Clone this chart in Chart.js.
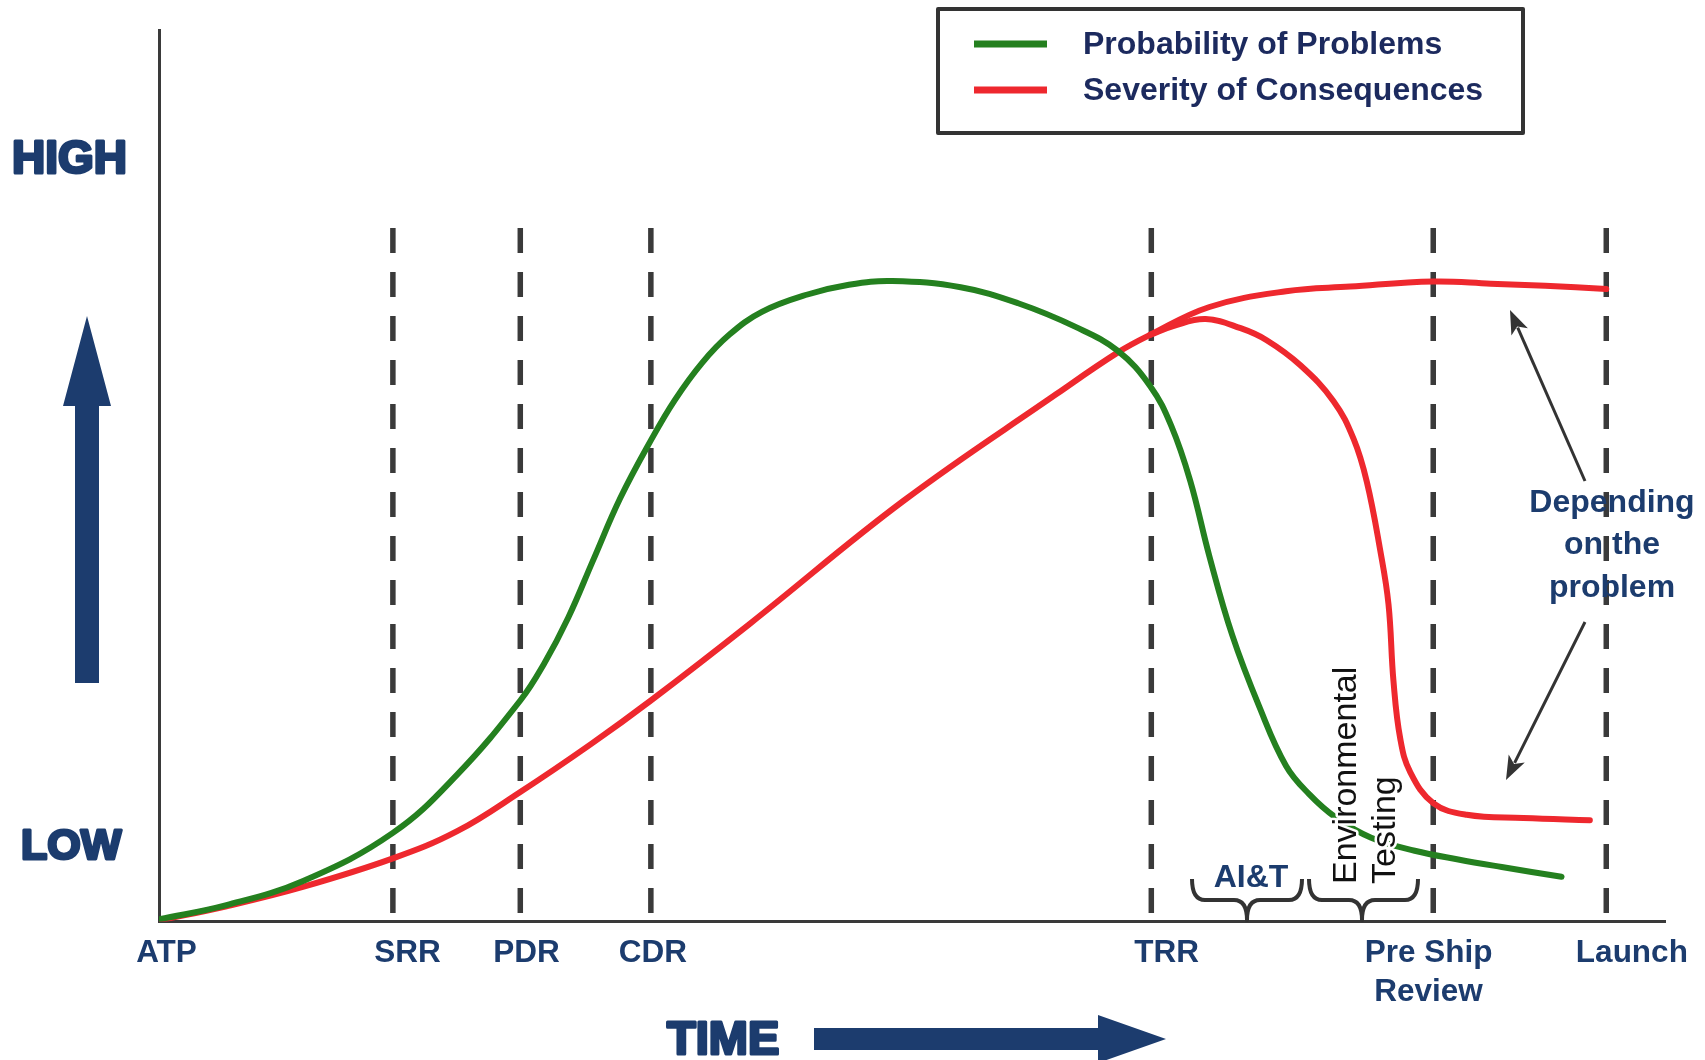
<!DOCTYPE html>
<html><head><meta charset="utf-8">
<script src="https://cdn.jsdelivr.net/npm/chart.js@4.4.1/dist/chart.umd.min.js"></script>
<style>html,body{margin:0;padding:0;background:#fff;}#wrap{width:1705px;height:1060px;position:relative;}</style>
</head><body><div id="wrap"><canvas id="c" width="1705" height="1060"></canvas></div>
<script>
// ---- data (time in % of program span, level in % of axis height) ----
const milestoneNames = ['ATP', 'SRR', 'PDR', 'CDR', 'TRR', ['Pre Ship', 'Review'], 'Launch'];
const milestoneLabelX = [0.5, 16.5, 24.4, 32.8, 66.9, 84.3, 97.8];
const reviewNames = ['SRR', 'PDR', 'CDR', 'TRR', 'Pre Ship Review', 'Launch'];
const reviewX = [15.53, 23.99, 32.66, 65.89, 84.61, 96.10];
const reviewTop = 77.8;

const probX = [0, 4.48, 9.61, 15.53, 19.80, 23.99, 25.58, 27.17, 28.83, 30.63, 32.66, 34.25, 36.05, 37.86, 40.03, 43.06, 45.81, 48.70, 53.23, 57.05, 60.86, 63.65, 65.82, 67.21, 68.48, 69.75, 71.27, 73.06, 74.84, 76.37, 78.14, 80.49, 83.38, 86.27, 89.16, 93.13];
const probY = [0.24, 1.83, 4.58, 9.94, 16.48, 24.79, 28.94, 34.07, 40.54, 47.50, 53.97, 58.49, 62.64, 65.81, 68.38, 70.33, 71.43, 71.85, 71.14, 69.35, 66.70, 64.03, 60.05, 55.62, 49.40, 40.95, 32.09, 24.10, 17.45, 14.29, 11.67, 9.40, 7.94, 6.96, 6.11, 5.01];

const sevX = [0, 4.48, 9.61, 15.53, 19.80, 23.99, 28.68, 32.66, 39.25, 49.42, 59.59, 63.65, 65.82, 69.75, 74.84, 79.10, 84.61, 88.43, 92.05, 96.10];
const sevY = [0.12, 1.71, 3.91, 7.08, 10.13, 14.53, 19.90, 24.79, 33.42, 47.17, 59.16, 63.81, 65.81, 68.93, 70.70, 71.22, 71.79, 71.55, 71.31, 70.94];

const sevAltX = [65.82, 67.34, 69.50, 71.82, 73.55, 75.79, 77.99, 79.33, 80.20, 81.09, 81.64, 81.97, 82.42, 83.09, 84.63, 86.84, 90.60, 95.01];
const sevAltY = [65.81, 66.79, 67.58, 66.55, 65.20, 62.39, 58.37, 54.10, 49.33, 41.64, 35.59, 26.98, 20.51, 16.73, 13.26, 11.97, 11.60, 11.36];

const seriesNames = ['Probability of Problems', 'Severity of Consequences'];
// ---------------------------------------------------------------------

const GREEN = '#24801f', RED = '#ee282e', NAVY = '#1c3c6e', DARK = '#3a3a3a';
const FONT = '"Liberation Sans", Arial, sans-serif';
const pts = (xs, ys) => xs.map((x, i) => ({x, y: ys[i]}));

const datasets = [];
reviewX.forEach((x, i) => datasets.push({
  label: reviewNames[i], data: [{x, y: reviewTop}, {x, y: 0}],
  borderColor: DARK, borderWidth: 5.5, borderDash: [25, 19], pointRadius: 0, tension: 0, order: 5
}));
const curve = {pointRadius: 0, borderWidth: 6, tension: 0.4, borderCapStyle: 'round', borderJoinStyle: 'round'};
datasets.push(Object.assign({label: seriesNames[1], data: pts(sevX, sevY), borderColor: RED, order: 2}, curve));
datasets.push(Object.assign({label: seriesNames[1] + ' (alt)', data: pts(sevAltX, sevAltY), borderColor: RED, order: 2}, curve));
datasets.push(Object.assign({label: seriesNames[0], data: pts(probX, probY), borderColor: GREEN, order: 1}, curve));

function arrowLine(ctx, x1, y1, x2, y2) {
  const a = Math.atan2(y2 - y1, x2 - x1), L = 24, W = 9;
  ctx.beginPath(); ctx.moveTo(x1, y1); ctx.lineTo(x2 - Math.cos(a) * L * 0.8, y2 - Math.sin(a) * L * 0.8); ctx.stroke();
  ctx.beginPath(); ctx.moveTo(x2, y2);
  ctx.lineTo(x2 - Math.cos(a) * L + Math.sin(a) * W, y2 - Math.sin(a) * L - Math.cos(a) * W);
  ctx.lineTo(x2 - Math.cos(a) * L * 0.75, y2 - Math.sin(a) * L * 0.75);
  ctx.lineTo(x2 - Math.cos(a) * L - Math.sin(a) * W, y2 - Math.sin(a) * L + Math.cos(a) * W);
  ctx.closePath(); ctx.fill();
}
function brace(ctx, x0, x1, xc, yTop, yMid, yBot) {
  const r = 13;
  ctx.beginPath();
  ctx.moveTo(x0, yTop);
  ctx.quadraticCurveTo(x0, yMid, x0 + r, yMid);
  ctx.lineTo(xc - r, yMid);
  ctx.quadraticCurveTo(xc, yMid, xc, yBot);
  ctx.quadraticCurveTo(xc, yMid, xc + r, yMid);
  ctx.lineTo(x1 - r, yMid);
  ctx.quadraticCurveTo(x1, yMid, x1, yTop);
  ctx.stroke();
}
function heavyText(ctx, t, x, y, w) {
  ctx.lineWidth = w; ctx.lineJoin = 'round'; ctx.strokeStyle = ctx.fillStyle;
  ctx.strokeText(t, x, y); ctx.fillText(t, x, y);
}

const decor = {
  id: 'decor',
  afterDatasetsDraw(chart) {
    const ctx = chart.ctx;
    ctx.save();
    // HIGH / LOW
    ctx.fillStyle = NAVY; ctx.textAlign = 'left'; ctx.textBaseline = 'alphabetic';
    ctx.font = 'bold 46px ' + FONT;
    heavyText(ctx, 'HIGH', 12, 173, 3);
    ctx.font = 'bold 43px ' + FONT;
    heavyText(ctx, 'LOW', 21, 859, 3);
    // up arrow
    ctx.beginPath();
    ctx.moveTo(87, 316); ctx.lineTo(111, 406); ctx.lineTo(99, 406); ctx.lineTo(99, 683);
    ctx.lineTo(75, 683); ctx.lineTo(75, 406); ctx.lineTo(63, 406); ctx.closePath(); ctx.fill();
    // TIME + right arrow
    ctx.font = 'bold 47px ' + FONT;
    heavyText(ctx, 'TIME', 667, 1054, 3);
    ctx.beginPath();
    ctx.moveTo(814, 1028); ctx.lineTo(1098, 1028); ctx.lineTo(1098, 1015); ctx.lineTo(1166, 1039);
    ctx.lineTo(1098, 1063); ctx.lineTo(1098, 1050); ctx.lineTo(814, 1050); ctx.closePath(); ctx.fill();

    // legend box
    ctx.fillStyle = '#fff'; ctx.fillRect(938, 9, 585, 124);
    ctx.strokeStyle = '#333'; ctx.lineWidth = 4; ctx.strokeRect(938, 9, 585, 124);
    const leg = [[GREEN, seriesNames[0], 44], [RED, seriesNames[1], 90]];
    ctx.font = 'bold 32px ' + FONT; ctx.textBaseline = 'middle';
    leg.forEach(([c, t, y]) => {
      ctx.strokeStyle = c; ctx.lineWidth = 7;
      ctx.beginPath(); ctx.moveTo(974, y); ctx.lineTo(1047, y); ctx.stroke();
      ctx.fillStyle = '#1c2a5e'; ctx.fillText(t, 1083, y + 1);
    });

    // "Depending on the problem"
    ctx.fillStyle = NAVY; ctx.textAlign = 'center';
    ctx.font = 'bold 32px ' + FONT;
    ctx.fillText('Depending', 1612, 503);
    ctx.fillText('on the', 1612, 545);
    ctx.fillText('problem', 1612, 588);
    ctx.strokeStyle = '#333'; ctx.fillStyle = '#333'; ctx.lineWidth = 3;
    arrowLine(ctx, 1585, 481, 1510, 310);
    arrowLine(ctx, 1585, 622, 1506, 780);

    // AI&T and Environmental Testing braces
    ctx.strokeStyle = '#333'; ctx.lineWidth = 4;
    brace(ctx, 1192, 1302, 1247, 879, 900, 920);
    brace(ctx, 1309, 1418, 1362, 879, 900, 920);
    ctx.fillStyle = NAVY; ctx.textAlign = 'center'; ctx.textBaseline = 'alphabetic';
    ctx.font = 'bold 32px ' + FONT;
    ctx.fillText('AI&T', 1251, 887);
    ctx.font = '34px ' + FONT;
    ctx.textAlign = 'left';
    [['Environmental', 1356], ['Testing', 1395]].forEach(([t, x]) => {
      ctx.save(); ctx.translate(x, 884); ctx.rotate(-Math.PI / 2);
      ctx.strokeStyle = '#fff'; ctx.lineWidth = 5; ctx.lineJoin = 'round';
      ctx.strokeText(t, 0, 0);
      ctx.fillStyle = '#111'; ctx.fillText(t, 0, 0);
      ctx.restore();
    });
    ctx.restore();
  }
};

new Chart(document.getElementById('c'), {
  type: 'line',
  data: {datasets},
  options: {
    responsive: false, animation: false, devicePixelRatio: 1,
    layout: {padding: {left: 0, right: 40, top: 30, bottom: 0}},
    plugins: {legend: {display: false}, tooltip: {enabled: false}},
    scales: {
      x: {
        type: 'linear', min: 0, max: 100,
        grid: {display: false, drawTicks: false},
        border: {display: true, color: DARK, width: 3},
        afterBuildTicks: s => { s.ticks = milestoneLabelX.map(v => ({value: v})); },
        afterFit: s => { s.height = 138.5; },
        ticks: {
          autoSkip: false, maxRotation: 0, padding: 12, color: NAVY,
          font: {family: FONT, size: 31.5, weight: 'bold', lineHeight: 1.25},
          callback: (v, i) => milestoneNames[i]
        }
      },
      y: {
        type: 'linear', min: 0, max: 100,
        grid: {display: false, drawTicks: false},
        border: {display: true, color: DARK, width: 3},
        ticks: {display: false},
        afterFit: s => { s.width = 159; }
      }
    }
  },
  plugins: [decor]
});
</script>
</body></html>
